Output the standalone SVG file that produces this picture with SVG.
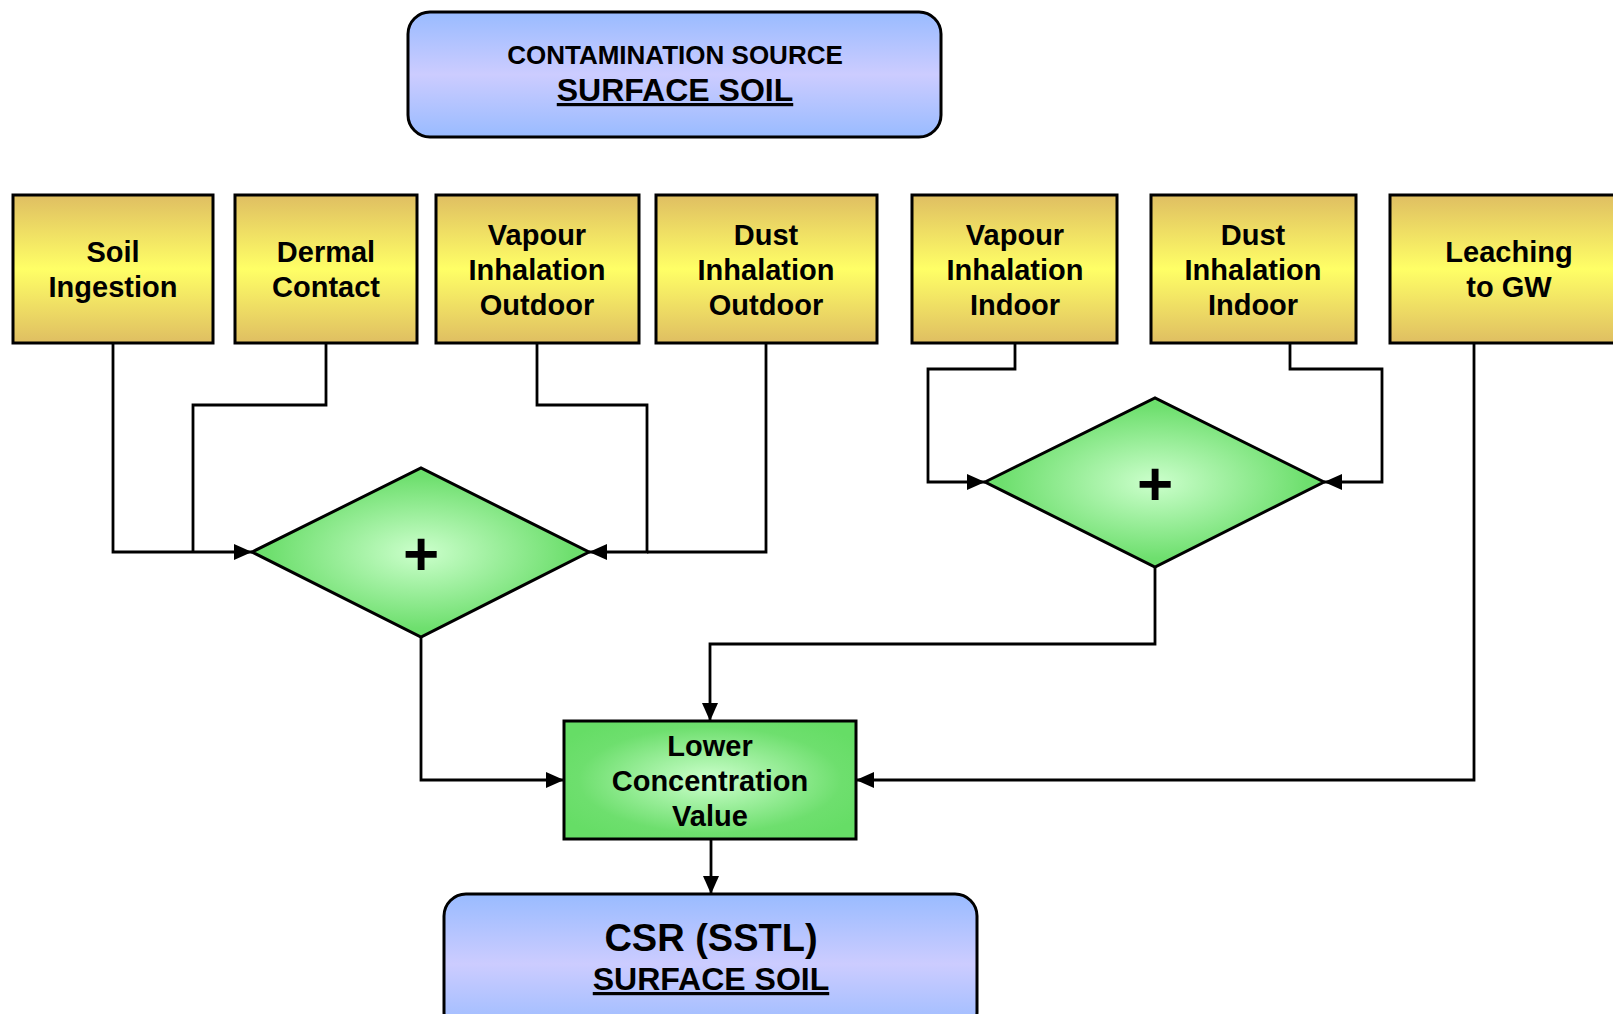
<svg xmlns="http://www.w3.org/2000/svg" width="1613" height="1014" viewBox="0 0 1613 1014">
<defs>
<linearGradient id="gy" x1="0" y1="0" x2="0" y2="1">
<stop offset="0" stop-color="#DFBE62"/>
<stop offset="0.5" stop-color="#FFFF66"/>
<stop offset="1" stop-color="#DFBE62"/>
</linearGradient>
<linearGradient id="gb" x1="0" y1="0" x2="0" y2="1">
<stop offset="0" stop-color="#99BBFF"/>
<stop offset="0.5" stop-color="#CCCCFF"/>
<stop offset="1" stop-color="#99BBFF"/>
</linearGradient>
<radialGradient id="gg" cx="0.5" cy="0.5" r="0.6">
<stop offset="0" stop-color="#CCFFCC"/>
<stop offset="0.75" stop-color="#6EDF6E"/>
<stop offset="1" stop-color="#66DD66"/>
</radialGradient>
<marker id="ah" markerWidth="18" markerHeight="16" refX="18" refY="8" orient="auto" markerUnits="userSpaceOnUse">
<path d="M0,0 L18,8 L0,16 Z" fill="#000"/>
</marker>
</defs>
<style>
.box{stroke:#000;stroke-width:3}
.yl{fill:url(#gy)}
.bl{fill:url(#gb)}
.gr{fill:url(#gg)}
.t{font-family:"Liberation Sans",Arial,sans-serif;font-weight:bold;fill:#000;text-anchor:middle}
.m{font-size:29px}
.c{fill:none;stroke:#000;stroke-width:2.8}
.a{marker-end:url(#ah)}
</style>
<g id="source">
<rect class="box bl" x="408" y="12" width="533" height="125" rx="22"/>
<text class="t" x="675" y="64" font-size="26">CONTAMINATION SOURCE</text>
<text class="t" x="675" y="101" font-size="32" text-decoration="underline">SURFACE SOIL</text>
</g>
<g id="soil-ingestion">
<rect class="box yl" x="13" y="195" width="200" height="148"/>
<text class="t m" x="113" y="262">Soil</text>
<text class="t m" x="113" y="297">Ingestion</text>
</g>
<g id="dermal-contact">
<rect class="box yl" x="235" y="195" width="182" height="148"/>
<text class="t m" x="326" y="262">Dermal</text>
<text class="t m" x="326" y="297">Contact</text>
</g>
<g id="vapour-outdoor">
<rect class="box yl" x="436" y="195" width="203" height="148"/>
<text class="t m" x="537" y="245">Vapour</text>
<text class="t m" x="537" y="280">Inhalation</text>
<text class="t m" x="537" y="315">Outdoor</text>
</g>
<g id="dust-outdoor">
<rect class="box yl" x="656" y="195" width="221" height="148"/>
<text class="t m" x="766" y="245">Dust</text>
<text class="t m" x="766" y="280">Inhalation</text>
<text class="t m" x="766" y="315">Outdoor</text>
</g>
<g id="vapour-indoor">
<rect class="box yl" x="912" y="195" width="205" height="148"/>
<text class="t m" x="1015" y="245">Vapour</text>
<text class="t m" x="1015" y="280">Inhalation</text>
<text class="t m" x="1015" y="315">Indoor</text>
</g>
<g id="dust-indoor">
<rect class="box yl" x="1151" y="195" width="205" height="148"/>
<text class="t m" x="1253" y="245">Dust</text>
<text class="t m" x="1253" y="280">Inhalation</text>
<text class="t m" x="1253" y="315">Indoor</text>
</g>
<g id="leaching">
<rect class="box yl" x="1390" y="195" width="240" height="148"/>
<text class="t m" x="1509" y="262">Leaching</text>
<text class="t m" x="1509" y="297">to GW</text>
</g>
<g id="sum-outdoor">
<polygon class="box gr" points="252,552 421,468 589,552 421,637"/>
<text class="t" x="421" y="575" font-size="62">+</text>
</g>
<g id="sum-indoor">
<polygon class="box gr" points="985,482 1155,398 1324,482 1155,567"/>
<text class="t" x="1155" y="505" font-size="62">+</text>
</g>
<g id="lower-conc">
<rect class="box gr" x="564" y="721" width="292" height="118"/>
<text class="t m" x="710" y="756">Lower</text>
<text class="t m" x="710" y="791">Concentration</text>
<text class="t m" x="710" y="826">Value</text>
</g>
<g id="csr">
<rect class="box bl" x="444" y="894" width="533" height="140" rx="22"/>
<text class="t" x="711" y="951" font-size="38">CSR (SSTL)</text>
<text class="t" x="711" y="990" font-size="32" text-decoration="underline">SURFACE SOIL</text>
</g>
<g id="connectors">
<path class="c a" d="M113,343 V552 H252"/>
<path class="c" d="M326,343 V405 H193 V552"/>
<path class="c a" d="M537,343 V405 H647 V552 H589"/>
<path class="c" d="M766,343 V552 H647"/>
<path class="c a" d="M1015,343 V369 H928 V482 H985"/>
<path class="c a" d="M1290,343 V369 H1382 V482 H1324"/>
<path class="c a" d="M421,637 V780 H564"/>
<path class="c a" d="M1155,567 V644 H710 V721"/>
<path class="c a" d="M1474,343 V780 H856"/>
<path class="c a" d="M711,839 V894"/>
</g>
</svg>
